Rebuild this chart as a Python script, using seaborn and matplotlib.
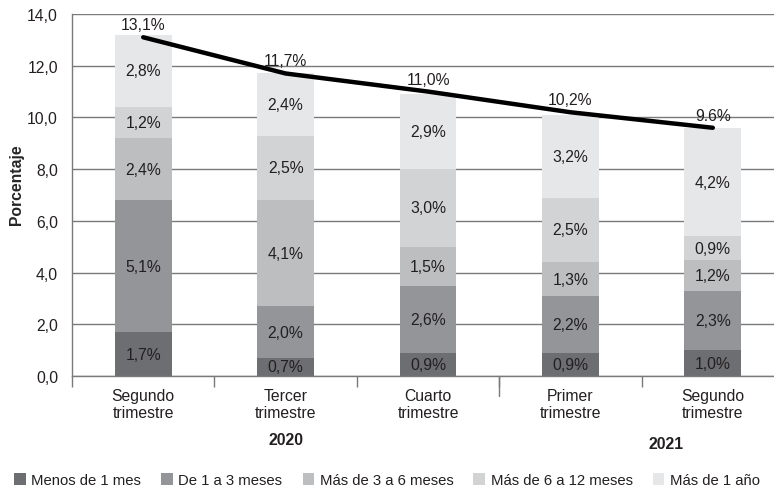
import numpy as np
import pandas as pd
import matplotlib
matplotlib.use("Agg")
import matplotlib.pyplot as plt
import seaborn as sns
from matplotlib.patches import Patch
from matplotlib.lines import Line2D

# data
periods = ["2020 T2", "2020 T3", "2020 T4", "2021 T1", "2021 T2"]
tick_labels = ["Segundo\ntrimestre", "Tercer\ntrimestre", "Cuarto\ntrimestre",
               "Primer\ntrimestre", "Segundo\ntrimestre"]
years = ["2020", "2021"]
segments = ["Menos de 1 mes", "De 1 a 3 meses", "Más de 3 a 6 meses",
            "Más de 6 a 12 meses", "Más de 1 año"]
menos_1_mes = [1.7, 0.7, 0.9, 0.9, 1.0]
de_1_a_3 = [5.1, 2.0, 2.6, 2.2, 2.3]
de_3_a_6 = [2.4, 4.1, 1.5, 1.3, 1.2]
de_6_a_12 = [1.2, 2.5, 3.0, 2.5, 0.9]
mas_1_ano = [2.8, 2.4, 2.9, 3.2, 4.2]
total = [13.1, 11.7, 11.0, 10.2, 9.6]
total_labels = ["13,1%", "11,7%", "11,0%", "10,2%", "9.6%"]

colors = ["#6d6e71", "#939598", "#bcbec0", "#d1d3d4", "#e6e7e8"]
txt = "#231f20"
grey = "#7a7a7a"
fs = 11.3

sns.set_style("white")
plt.rcParams["font.family"] = ["Liberation Sans", "DejaVu Sans"]
plt.rcParams["font.size"] = fs

fig = plt.figure(figsize=(7.74, 4.89), dpi=100)
ax = fig.add_axes([72 / 774, 112 / 489, 712 / 774, 362 / 489])

series = [menos_1_mes, de_1_a_3, de_3_a_6, de_6_a_12, mas_1_ano]
bottom = np.zeros(len(periods))
for name, vals, col in zip(segments, series, colors):
    df = pd.DataFrame({"period": periods, "value": vals})
    sns.barplot(data=df, x="period", y="value", order=periods, color=col,
                width=0.4, bottom=bottom, saturation=1, linewidth=0, ax=ax,
                zorder=2)
    for i, v in enumerate(vals):
        ax.text(i, bottom[i] + v / 2, f"{v:.1f}%".replace(".", ","),
                ha="center", va="center", fontsize=fs, color=txt, zorder=4)
    bottom = bottom + np.array(vals)

line_df = pd.DataFrame({"x": np.arange(len(periods)), "total": total})
sns.lineplot(data=line_df, x="x", y="total", color="black", lw=3.2, ax=ax,
             zorder=3, solid_capstyle="round")
for i, (t, lab) in enumerate(zip(total, total_labels)):
    ax.annotate(lab, (i, t), xytext=(0, 9), textcoords="offset points",
                ha="center", va="center", fontsize=fs, color=txt, zorder=4)

ax.set_xlim(-0.5, 4.5)
ax.set_ylim(0, 14)
ax.set_yticks(np.arange(0, 14.1, 2))
ax.set_yticklabels([f"{v:.1f}".replace(".", ",") for v in np.arange(0, 14.1, 2)])
ax.yaxis.grid(True, color=grey, lw=1)
ax.set_axisbelow(True)
ax.set_xticks(range(len(periods)))
ax.set_xticklabels(tick_labels, fontsize=fs, color=txt, linespacing=1.15)
ax.set_xticks(np.arange(-0.5, 4.6, 1), minor=True)
ax.tick_params(axis="x", which="major", length=0, pad=9)
ax.tick_params(axis="x", which="minor", bottom=True, length=8, width=1,
               color=grey, direction="out")
ax.tick_params(axis="y", length=0, pad=10, labelsize=fs, labelcolor=txt)
ax.set_xlabel("")
ax.set_ylabel("Porcentaje", fontweight="bold", fontsize=fs)
ax.yaxis.set_label_coords(-0.068, 0.53)
for s in ["top", "right"]:
    ax.spines[s].set_visible(False)
for s in ["left", "bottom"]:
    ax.spines[s].set_color(grey)
    ax.spines[s].set_linewidth(1)

# longer separator between years
ax.add_line(Line2D([2.5, 2.5], [0, -0.78], color=grey, lw=1, clip_on=False))

ax.text(1.0, -2.45, years[0], ha="center", va="center", fontweight="bold",
        fontsize=fs, color=txt)
ax.text(3.67, -2.62, years[1], ha="center", va="center", fontweight="bold",
        fontsize=fs, color=txt)

handles = [Patch(facecolor=c, edgecolor="none") for c in colors]
fig.legend(handles, segments, loc="center left", bbox_to_anchor=(0.007, 8 / 489),
           ncol=5, frameon=False, handlelength=0.8, handleheight=0.8,
           handletextpad=0.35, columnspacing=1.35, fontsize=10.7,
           labelcolor=txt, borderaxespad=0.2)

fig.savefig("out.png", dpi=100)
